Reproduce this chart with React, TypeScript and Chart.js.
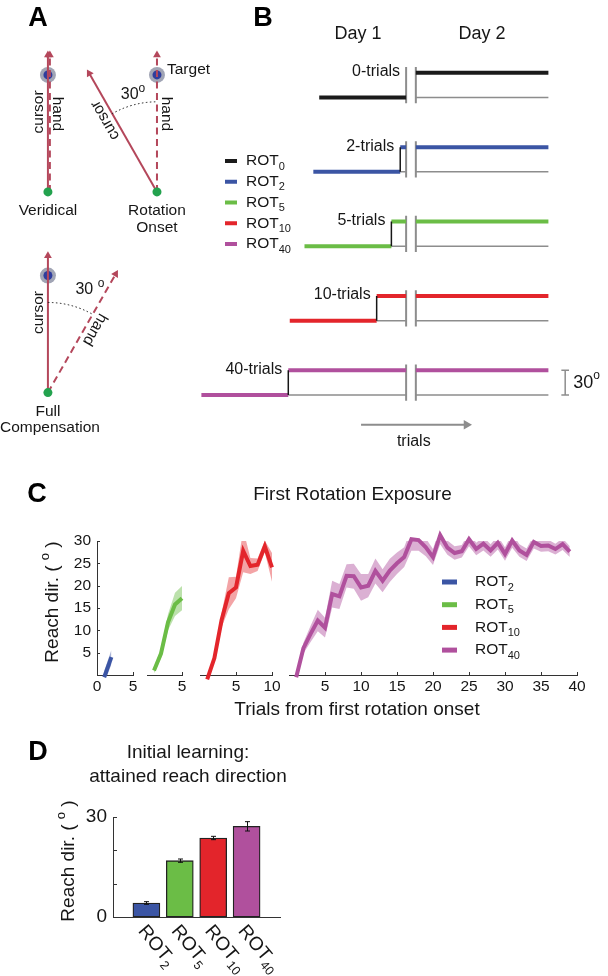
import React, { useEffect, useRef } from 'react';
import { Chart, registerables } from 'chart.js';

Chart.register(...registerables);

const W = 608;
const H = 976;
const FONT = '"Liberation Sans", Arial, Helvetica, sans-serif';
const INK = '#161616';
const AXIS = '#333333';
const GRAY = '#8d8d8d';
const ARROW = '#b4475b';

// ---------- shared groups ----------
const GROUP_SUBS = ['0', '2', '5', '10', '40'];
const GROUP_COLORS = ['#1b1b1b', '#3b55a4', '#6bbd46', '#e3252b', '#b0509d'];
const BAND_COLORS = ['rgba(27,27,27,0.4)', 'rgba(59,85,164,0.45)', 'rgba(107,189,70,0.45)', 'rgba(227,37,43,0.42)', 'rgba(176,80,157,0.45)'];

// ---------- Panel A (schematic) ----------
const A_NAMES = [['Veridical'], ['Rotation', 'Onset'], ['Full', 'Compensation']];
const A_CURSOR_ANGLE = [0, -30, 0];
const A_HAND_ANGLE = [0, 0, 30];
const A_ROTATION_TEXT = ['', '30', '30 '];
const A_ARROW_LENGTH = 1.17;
const A_ARC_RADIUS = 0.77;

// ---------- Panel B (schematic) ----------
const B_ROT_TRIALS = [0, 2, 5, 10, 40];
const B_BASELINE_TRIALS = 29.5;
const B_DAY2_TRIALS = 45;
const B_ROTATION_DEG = 30;
const B_GAP_TRIALS = 3.3;
const B_DAYS = ['Day 1', 'Day 2'];

// ---------- Panel C (first rotation exposure) ----------
const C_X_ROT2 = [1, 2];
const C_MEAN_ROT2 = [-0.5, 4.0];
const C_SEM_ROT2 = [1.4, 1.6];

const C_X_ROT5 = [1, 2, 3, 4, 5];
const C_MEAN_ROT5 = [1.0, 4.8, 11.8, 15.8, 17.2];
const C_SEM_ROT5 = [0.6, 1.0, 1.8, 2.6, 2.7];

const C_X_ROT10 = [1, 2, 3, 4, 5, 6, 7, 8, 9, 10];
const C_MEAN_ROT10 = [-1.0, 3.8, 12.3, 18.3, 19.6, 27.8, 24.4, 24.7, 28.8, 24.1];
const C_SEM_ROT10 = [0.6, 0.9, 1.6, 3.6, 2.4, 4.8, 1.8, 1.4, 1.3, 3.2];

const C_X_ROT40 = [1, 2, 3, 4, 5, 6, 7, 8, 9, 10, 11, 12, 13, 14, 15, 16, 17, 18, 19, 20, 21, 22, 23, 24, 25, 26, 27, 28, 29, 30, 31, 32, 33, 34, 35, 36, 37, 38, 39];
const C_MEAN_ROT40 = [-0.5, 6.0, 9.2, 12.2, 10.6, 18.1, 17.6, 22.2, 22.1, 19.6, 20.0, 23.3, 21.1, 23.4, 25.0, 26.4, 30.4, 30.2, 28.6, 26.4, 31.3, 28.5, 27.3, 27.7, 30.4, 28.2, 29.4, 27.9, 29.6, 27.1, 30.1, 27.9, 26.9, 29.8, 28.9, 29.0, 28.2, 29.3, 27.6];
const C_SEM_ROT40 = [0.6, 1.2, 1.8, 2.4, 2.2, 3.0, 2.8, 2.6, 2.8, 3.0, 2.6, 2.8, 2.6, 2.6, 2.4, 2.2, 2.6, 2.4, 2.0, 1.8, 2.0, 1.6, 1.5, 1.4, 1.6, 1.4, 1.5, 1.4, 1.5, 1.5, 1.6, 1.4, 1.4, 1.5, 1.3, 1.3, 1.2, 1.3, 1.2];

const C_XMAX = [5, 5, 10, 40];
const C_XTICKS = [[0, 5], [5], [5, 10], [5, 10, 15, 20, 25, 30, 35, 40]];
const C_YTICKS = [5, 10, 15, 20, 25, 30];
const C_TITLE = 'First Rotation Exposure';
const C_XLABEL = 'Trials from first rotation onset';

// ---------- Panel D (initial learning) ----------
const D_GROUPS = ['2', '5', '10', '40'];
const D_POS = [1, 2, 3, 4];
const D_MEAN = [4.2, 16.9, 23.7, 27.2];
const D_SEM = [0.4, 0.5, 0.5, 1.4];
const D_TITLE = ['Initial learning:', 'attained reach direction'];

// ---------- layout (pixels) ----------
const A_UNIT_PX = 119;
const A_ORIGIN_PX = [[41, 187], [153, 187], [41, 391]];
const A_HAND_SHIFT_PX = [2, 0, 0];
const A_ANGLE_LABEL_PX = [[0, 0], [-24, -97], [42, -103]];

const B_ORIGIN_PX = [408, 93];
const B_PX_PER_TRIAL = 3;
const B_PX_PER_DEG = 25 / 30;
const B_ROW_DEG = 90.3;

const C_AREAS = [[97, 133], [147, 182], [200, 272], [289, 577]];
const C_TOP = 541;
const C_BOTTOM = 675;

const D_AREA = { left: 113, right: 280, top: 817, bottom: 917 };

// ---------- helpers ----------
type Seg = { t: string; sub?: boolean; sup?: boolean };
interface RichOpt { size: number; align?: 'left' | 'center' | 'right'; rot?: number; bold?: boolean; color?: string; small?: number; minLeft?: number }

function drawRich(ctx: CanvasRenderingContext2D, segs: Seg[], x: number, y: number, o: RichOpt) {
  const big = o.size;
  const small = o.small ?? big * 0.68;
  const font = (s: number) => `${o.bold ? 'bold ' : ''}${s}px ${FONT}`;
  ctx.save();
  ctx.textAlign = 'left';
  ctx.textBaseline = 'middle';
  ctx.fillStyle = o.color ?? INK;
  const widths = segs.map((s) => {
    ctx.font = font(s.sub || s.sup ? small : big);
    return ctx.measureText(s.t).width;
  });
  const total = widths.reduce((a, b) => a + b, 0);
  let cx = o.align === 'center' ? -total / 2 : o.align === 'right' ? -total : 0;
  if (o.minLeft !== undefined && !o.rot && x + cx < o.minLeft) x = o.minLeft - cx;
  ctx.translate(x, y);
  if (o.rot) ctx.rotate((o.rot * Math.PI) / 180);
  segs.forEach((s, i) => {
    ctx.font = font(s.sub || s.sup ? small : big);
    const dy = s.sub ? big * 0.36 : s.sup ? -big * 0.4 : 0;
    ctx.fillText(s.t, cx, dy);
    cx += widths[i];
  });
  ctx.restore();
}
const rotLabel = (sub: string): Seg[] => [{ t: 'ROT' }, { t: sub, sub: true }];
const txt = (t: string): Seg[] => [{ t }];
const rad = (d: number) => (d * Math.PI) / 180;

function baseOptions(extra: any) {
  return {
    responsive: false,
    maintainAspectRatio: false,
    animation: false,
    devicePixelRatio: 1,
    events: [],
    plugins: { legend: { display: false }, tooltip: { enabled: false }, title: { display: false } },
    ...extra,
  };
}

// ---------- Panel A ----------
function configA() {
  const U = A_UNIT_PX;
  const origins = A_ORIGIN_PX.map(([px, py]) => ({ x: px / U, y: py / U }));
  const targets = origins.map((o) => ({ x: o.x, y: o.y - 1 }));
  const arrow = (o: any, ang: number, dashed: boolean, shift: number) => ({
    data: [
      { x: o.x + shift / U, y: o.y },
      { x: o.x + shift / U + A_ARROW_LENGTH * Math.sin(rad(ang)), y: o.y - A_ARROW_LENGTH * Math.cos(rad(ang)) },
    ],
    showLine: true,
    borderColor: ARROW,
    borderWidth: 2,
    borderDash: dashed ? [7, 4.5] : [],
    pointRadius: (c: any) => (c.dataIndex === 1 ? 4.5 : 0),
    pointStyle: 'triangle',
    pointRotation: ang,
    pointBackgroundColor: ARROW,
    pointBorderWidth: 0,
    order: dashed ? 3 : 2,
  });
  const datasets: any[] = [
    { data: targets, pointRadius: 8, pointBackgroundColor: '#a1a5b5', pointBorderWidth: 0, order: 6 },
    { data: targets, pointRadius: 4.5, pointBackgroundColor: '#2f3d9d', pointBorderWidth: 0, order: 5 },
  ];
  origins.forEach((o, i) => {
    datasets.push(arrow(o, A_HAND_ANGLE[i], true, A_HAND_SHIFT_PX[i]));
    datasets.push(arrow(o, A_CURSOR_ANGLE[i], false, 0));
  });
  datasets.push({ data: origins, pointRadius: 4.5, pointBackgroundColor: '#23a24e', pointBorderWidth: 0, order: 1 });

  const plugin = {
    id: 'panelA',
    afterDraw(chart: any) {
      const ctx = chart.ctx as CanvasRenderingContext2D;
      const xs = chart.scales.x;
      const ys = chart.scales.y;
      drawRich(ctx, txt('A'), 38, 19, { size: 27, bold: true, align: 'center', color: '#000' });
      origins.forEach((o, i) => {
        const ox = xs.getPixelForValue(o.x);
        const oy = ys.getPixelForValue(o.y);
        const th = A_HAND_ANGLE[i];
        const tc = A_CURSOR_ANGLE[i];
        if (th !== tc) {
          const r = ys.getPixelForValue(o.y) - ys.getPixelForValue(o.y - A_ARC_RADIUS);
          ctx.save();
          ctx.setLineDash([1.5, 2.5]);
          ctx.lineWidth = 1;
          ctx.strokeStyle = INK;
          ctx.beginPath();
          ctx.arc(ox, oy, r, rad(Math.min(th, tc) - 90), rad(Math.max(th, tc) - 90));
          ctx.stroke();
          ctx.restore();
          const [dx, dy] = A_ANGLE_LABEL_PX[i];
          drawRich(ctx, [{ t: A_ROTATION_TEXT[i] }, { t: 'o', sup: true }], ox + dx, oy + dy, { size: 16, align: 'center', small: 12 });
        }
        const at = (ang: number, along: number, perp: number) => [
          ox + along * Math.sin(rad(ang)) + perp * Math.cos(rad(ang)),
          oy - along * Math.cos(rad(ang)) + perp * Math.sin(rad(ang)),
        ];
        const [hx, hy] = at(th, 78, 9);
        drawRich(ctx, txt('hand'), hx, hy, { size: 15.5, align: 'center', rot: th + 90 });
        const [cx, cy] = at(tc, th !== tc && tc !== 0 ? 88 : 80, -9);
        drawRich(ctx, txt('cursor'), cx, cy, { size: 15.5, align: 'center', rot: tc - 90 });
        A_NAMES[i].forEach((n, k) => drawRich(ctx, txt(n), ox, oy + 19 + 16.5 * k, { size: 15.5, align: 'center', minLeft: 0 }));
        if (i === 1) {
          const tx = xs.getPixelForValue(targets[i].x);
          const ty = ys.getPixelForValue(targets[i].y);
          drawRich(ctx, txt('Target'), tx + 10, ty - 5, { size: 15.5, align: 'left' });
        }
      });
    },
  };

  return {
    type: 'scatter',
    data: { datasets },
    options: baseOptions({
      layout: { padding: 0 },
      scales: {
        x: { type: 'linear', display: false, min: 0, max: W / U },
        y: { type: 'linear', display: false, min: 0, max: H / U, reverse: true },
      },
    }),
    plugins: [plugin],
  };
}

// ---------- Panel B ----------
function configB() {
  const line = (pts: any[], color: string, width: number, order: number) => ({
    data: pts,
    showLine: true,
    borderColor: color,
    borderWidth: width,
    borderCapStyle: 'butt',
    pointRadius: 0,
    order,
  });
  const datasets: any[] = [];
  const lastRow = B_ROT_TRIALS.length - 1;
  B_ROT_TRIALS.forEach((n, k) => {
    const yb = -k * B_ROW_DEG;
    const top = yb + B_ROTATION_DEG;
    const c = GROUP_COLORS[k];
    datasets.push(line([{ x: -n - B_BASELINE_TRIALS, y: yb }, { x: -n, y: yb }], c, 4, 2));
    if (n > 0) {
      datasets.push(line([{ x: -n, y: top }, { x: 0, y: top }], c, 4, 2));
      datasets.push(line([{ x: -n, y: yb }, { x: 0, y: yb }], GRAY, 1.5, 3));
      datasets.push(line([{ x: -n, y: yb }, { x: -n, y: top }], INK, 1.5, 1));
    }
    datasets.push(line([{ x: B_GAP_TRIALS, y: top }, { x: B_GAP_TRIALS + B_DAY2_TRIALS, y: top }], c, 4, 2));
    datasets.push(line([{ x: B_GAP_TRIALS, y: yb }, { x: B_GAP_TRIALS + B_DAY2_TRIALS, y: yb }], GRAY, 1.5, 3));
    [0, B_GAP_TRIALS].forEach((bx) => datasets.push(line([{ x: bx, y: yb - 7 }, { x: bx, y: top + 7 }], GRAY, 2, 4)));
  });
  // 30 deg scale bar
  const yb4 = -lastRow * B_ROW_DEG;
  const sbx = 54;
  datasets.push(line([{ x: sbx, y: yb4 }, { x: sbx, y: yb4 + B_ROTATION_DEG }], GRAY, 1.5, 1));
  datasets.push(line([{ x: sbx - 1.3, y: yb4 }, { x: sbx + 1.3, y: yb4 }], GRAY, 1.5, 1));
  datasets.push(line([{ x: sbx - 1.3, y: yb4 + B_ROTATION_DEG }, { x: sbx + 1.3, y: yb4 + B_ROTATION_DEG }], GRAY, 1.5, 1));
  // trials arrow
  const arrowY = yb4 - 36;
  const arrowX = [-15.3, 20.5];
  datasets.push({
    ...line([{ x: arrowX[0], y: arrowY }, { x: arrowX[1], y: arrowY }], GRAY, 2, 1),
    pointRadius: (c: any) => (c.dataIndex === 1 ? 5.5 : 0),
    pointStyle: 'triangle',
    pointRotation: 90,
    pointBackgroundColor: GRAY,
    pointBorderWidth: 0,
  });

  const plugin = {
    id: 'panelB',
    afterDraw(chart: any) {
      const ctx = chart.ctx as CanvasRenderingContext2D;
      const xs = chart.scales.x;
      const ys = chart.scales.y;
      drawRich(ctx, txt('B'), 263, 19, { size: 27, bold: true, align: 'center', color: '#000' });
      const dayX = [-16.3, B_GAP_TRIALS + B_DAY2_TRIALS / 2];
      B_DAYS.forEach((d, i) => drawRich(ctx, txt(d), xs.getPixelForValue(dayX[i]), 34, { size: 18, align: 'center' }));
      B_ROT_TRIALS.forEach((n, k) => {
        const top = -k * B_ROW_DEG + B_ROTATION_DEG;
        drawRich(ctx, txt(`${n}-trials`), xs.getPixelForValue(-n) - 6, ys.getPixelForValue(top) - 1, { size: 16, align: 'right' });
      });
      // legend
      GROUP_SUBS.forEach((s, k) => {
        const y = 161 + 20.75 * k;
        ctx.save();
        ctx.strokeStyle = GROUP_COLORS[k];
        ctx.lineWidth = 4;
        ctx.beginPath();
        ctx.moveTo(225, y);
        ctx.lineTo(237, y);
        ctx.stroke();
        ctx.restore();
        drawRich(ctx, rotLabel(s), 246, y, { size: 15.5, align: 'left', small: 11 });
      });
      // scale bar label
      drawRich(ctx, [{ t: '30' }, { t: 'o', sup: true }], xs.getPixelForValue(sbx) + 8, ys.getPixelForValue(yb4 + B_ROTATION_DEG / 2), { size: 18, align: 'left', small: 12 });
      drawRich(ctx, txt('trials'), xs.getPixelForValue((arrowX[0] + arrowX[1]) / 2), ys.getPixelForValue(arrowY) + 17, { size: 16, align: 'center' });
    },
  };

  return {
    type: 'scatter',
    data: { datasets },
    options: baseOptions({
      layout: { padding: 0 },
      scales: {
        x: { type: 'linear', display: false, min: -B_ORIGIN_PX[0] / B_PX_PER_TRIAL, max: (W - B_ORIGIN_PX[0]) / B_PX_PER_TRIAL },
        y: { type: 'linear', display: false, min: -(H - B_ORIGIN_PX[1]) / B_PX_PER_DEG, max: B_ORIGIN_PX[1] / B_PX_PER_DEG },
      },
    }),
    plugins: [plugin],
  };
}

// ---------- Panel C ----------
const C_SERIES = [
  { x: C_X_ROT2, mean: C_MEAN_ROT2, sem: C_SEM_ROT2, g: 1 },
  { x: C_X_ROT5, mean: C_MEAN_ROT5, sem: C_SEM_ROT5, g: 2 },
  { x: C_X_ROT10, mean: C_MEAN_ROT10, sem: C_SEM_ROT10, g: 3 },
  { x: C_X_ROT40, mean: C_MEAN_ROT40, sem: C_SEM_ROT40, g: 4 },
];

function inwardTicks(drawY: boolean, len: number) {
  return {
    id: 'inwardTicks',
    afterDraw(chart: any) {
      const ctx = chart.ctx as CanvasRenderingContext2D;
      const a = chart.chartArea;
      const xs = chart.scales.x;
      const ys = chart.scales.y;
      ctx.save();
      ctx.strokeStyle = AXIS;
      ctx.lineWidth = 1;
      ctx.beginPath();
      xs.ticks.forEach((t: any) => {
        const px = Math.round(xs.getPixelForValue(t.value)) + 0.5;
        ctx.moveTo(px, a.bottom);
        ctx.lineTo(px, a.bottom - len);
      });
      if (drawY) {
        ys.ticks.forEach((t: any) => {
          const py = Math.round(ys.getPixelForValue(t.value)) + 0.5;
          ctx.moveTo(a.left, py);
          ctx.lineTo(a.left + len, py);
        });
      }
      ctx.stroke();
      ctx.restore();
    },
  };
}

function configC(idx: number) {
  const s = C_SERIES[idx];
  const area = C_AREAS[idx];
  const upper = s.x.map((x, i) => ({ x, y: s.mean[i] + s.sem[i] }));
  const lower = s.x.map((x, i) => ({ x, y: s.mean[i] - s.sem[i] }));
  const mean = s.x.map((x, i) => ({ x, y: s.mean[i] }));
  const tickFont = { family: FONT, size: 15.5 };
  const plugins: any[] = [inwardTicks(idx === 0, 3)];
  if (idx === 3) {
    plugins.push({
      id: 'panelC',
      afterDraw(chart: any) {
        const ctx = chart.ctx as CanvasRenderingContext2D;
        drawRich(ctx, txt('C'), 37, 495, { size: 27, bold: true, align: 'center', color: '#000' });
        drawRich(ctx, txt(C_TITLE), 352.5, 495, { size: 19, align: 'center' });
        drawRich(ctx, txt(C_XLABEL), 357, 710, { size: 19, align: 'center' });
        drawRich(ctx, [{ t: 'Reach dir. ( ' }, { t: 'o', sup: true }, { t: ' )' }], 53, 602, { size: 19, align: 'center', rot: -90, small: 13 });
        [1, 2, 3, 4].forEach((g, k) => {
          const y = 582 + 22.7 * k;
          ctx.save();
          ctx.strokeStyle = GROUP_COLORS[g];
          ctx.lineWidth = 5;
          ctx.beginPath();
          ctx.moveTo(442, y);
          ctx.lineTo(457, y);
          ctx.stroke();
          ctx.restore();
          drawRich(ctx, rotLabel(GROUP_SUBS[g]), 475, y, { size: 15.5, align: 'left', small: 11 });
        });
      },
    });
  }
  return {
    type: 'line',
    data: {
      datasets: [
        { data: upper, fill: '+1', backgroundColor: BAND_COLORS[s.g], borderColor: 'rgba(0,0,0,0)', borderWidth: 0, pointRadius: 0, order: 2, clip: false },
        { data: lower, fill: false, borderColor: 'rgba(0,0,0,0)', borderWidth: 0, pointRadius: 0, order: 2, clip: false },
        { data: mean, fill: false, borderColor: GROUP_COLORS[s.g], borderWidth: 4, pointRadius: 0, order: 1, clip: false },
      ],
    },
    options: baseOptions({
      layout: { padding: { left: idx === 0 ? 0 : area[0], right: W - area[1], top: C_TOP, bottom: H - C_BOTTOM - 30 } },
      scales: {
        x: {
          type: 'linear',
          min: 0,
          max: C_XMAX[idx],
          offset: false,
          afterBuildTicks: (sc: any) => { sc.ticks = C_XTICKS[idx].map((v) => ({ value: v })); },
          afterFit: (sc: any) => { sc.height = 30; },
          grid: { display: false, drawTicks: false },
          border: { display: true, color: AXIS, width: 1 },
          ticks: { autoSkip: false, maxRotation: 0, minRotation: 0, padding: 2, color: INK, font: tickFont },
        },
        y: {
          type: 'linear',
          min: 0,
          max: 30,
          display: idx === 0,
          afterBuildTicks: (sc: any) => { sc.ticks = C_YTICKS.map((v) => ({ value: v })); },
          afterFit: (sc: any) => { if (idx === 0) sc.width = area[0]; },
          grid: { display: false, drawTicks: false },
          border: { display: true, color: AXIS, width: 1 },
          ticks: { padding: 6, color: INK, font: tickFont },
        },
      },
    }),
    plugins,
  };
}

// ---------- Panel D ----------
function configD() {
  const plugin = {
    id: 'panelD',
    afterDraw(chart: any) {
      const ctx = chart.ctx as CanvasRenderingContext2D;
      const xs = chart.scales.x;
      const ys = chart.scales.y;
      // error bars
      ctx.save();
      ctx.strokeStyle = '#111';
      ctx.lineWidth = 1;
      ctx.beginPath();
      D_POS.forEach((p, i) => {
        const x = Math.round(xs.getPixelForValue(p)) + 0.5;
        const y1 = ys.getPixelForValue(D_MEAN[i] + D_SEM[i]);
        const y2 = ys.getPixelForValue(D_MEAN[i] - D_SEM[i]);
        ctx.moveTo(x, y1); ctx.lineTo(x, y2);
        ctx.moveTo(x - 2.5, y1); ctx.lineTo(x + 2.5, y1);
        ctx.moveTo(x - 2.5, y2); ctx.lineTo(x + 2.5, y2);
      });
      ctx.stroke();
      // inward y ticks
      ctx.strokeStyle = AXIS;
      ctx.beginPath();
      [10, 20, 30].forEach((v) => {
        const py = Math.round(ys.getPixelForValue(v)) + 0.5;
        ctx.moveTo(chart.chartArea.left, py);
        ctx.lineTo(chart.chartArea.left + 4, py);
      });
      ctx.stroke();
      ctx.restore();
      D_POS.forEach((p, i) => {
        drawRich(ctx, rotLabel(D_GROUPS[i]), xs.getPixelForValue(p) - 5, chart.chartArea.bottom + 11, { size: 19, align: 'left', rot: 50, small: 12.5 });
      });
      drawRich(ctx, txt('D'), 38, 753, { size: 27, bold: true, align: 'center', color: '#000' });
      D_TITLE.forEach((t, k) => drawRich(ctx, txt(t), 188, 753 + 24 * k, { size: 19, align: 'center' }));
      drawRich(ctx, [{ t: 'Reach dir. ( ' }, { t: 'o', sup: true }, { t: ' )' }], 69, 861, { size: 19, align: 'center', rot: -90, small: 13 });
    },
  };
  return {
    type: 'bar',
    data: {
      datasets: [
        {
          data: D_POS.map((p, i) => ({ x: p, y: D_MEAN[i] })),
          backgroundColor: [GROUP_COLORS[1], GROUP_COLORS[2], GROUP_COLORS[3], GROUP_COLORS[4]],
          borderColor: '#222',
          borderWidth: 1.3,
          borderSkipped: false,
          barThickness: 27,
        },
      ],
    },
    options: baseOptions({
      layout: { padding: { left: 0, top: D_AREA.top, right: W - D_AREA.right, bottom: H - D_AREA.bottom - 10 } },
      scales: {
        x: {
          type: 'linear',
          min: 0,
          max: 5,
          offset: false,
          grid: { display: false, drawTicks: false },
          border: { display: true, color: AXIS, width: 1 },
          ticks: { display: false },
          afterFit: (sc: any) => { sc.height = 10; },
        },
        y: {
          type: 'linear',
          min: 0,
          max: 30,
          afterBuildTicks: (sc: any) => { sc.ticks = [0, 10, 20, 30].map((v) => ({ value: v })); },
          afterFit: (sc: any) => { sc.width = D_AREA.left; },
          grid: { display: false, drawTicks: false },
          border: { display: true, color: AXIS, width: 1 },
          ticks: { padding: 6, color: INK, font: { family: FONT, size: 19 }, callback: (v: any) => (v === 0 || v === 30 ? String(v) : '') },
        },
      },
    }),
    plugins: [plugin],
  };
}

const N_CHARTS = 7;

export default function App() {
  const refs = useRef<(HTMLCanvasElement | null)[]>([]);
  useEffect(() => {
    const configs: any[] = [configA(), configB(), configC(0), configC(1), configC(2), configC(3), configD()];
    const charts = configs.map((cfg, i) => new Chart(refs.current[i] as HTMLCanvasElement, cfg));
    return () => charts.forEach((c) => c.destroy());
  }, []);
  return (
    <div style={{ position: 'absolute', left: 0, top: 0, width: W, height: H, background: '#fff', overflow: 'hidden' }}>
      {Array.from({ length: N_CHARTS }).map((_, i) => (
        <canvas
          key={i}
          ref={(el) => { refs.current[i] = el; }}
          width={W}
          height={H}
          style={{ position: 'absolute', left: 0, top: 0, width: W, height: H }}
        />
      ))}
    </div>
  );
}
